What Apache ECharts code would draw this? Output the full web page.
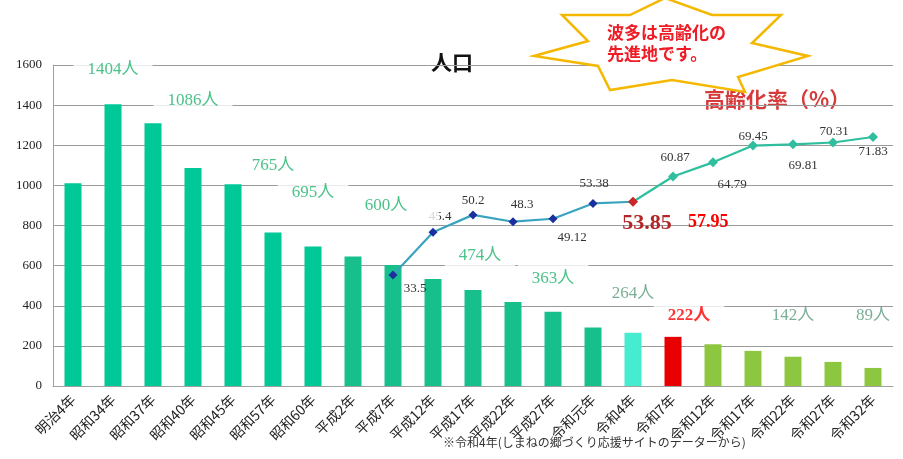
<!DOCTYPE html>
<html>
<head>
<meta charset="utf-8">
<script src="https://cdn.jsdelivr.net/npm/echarts@6/dist/echarts.min.js"></script>
<style>
  html, body { margin: 0; padding: 0; background: #fff; }
  #main { width: 903px; height: 459px; }
</style>
</head>
<body>
<div id="main"></div>
<script>
// 人口（棒）
var years = ['明治4年', '昭和34年', '昭和37年', '昭和40年', '昭和45年', '昭和57年', '昭和60年',
  '平成2年', '平成7年', '平成12年', '平成17年', '平成22年', '平成27年', '令和元年',
  '令和4年', '令和7年', '令和12年', '令和17年', '令和22年', '令和27年', '令和32年'];
var population = [1010, 1404, 1310, 1086, 1005, 765, 695, 645, 603, 533, 478, 419, 370, 291,
  266, 245, 208, 175, 146, 120, 90];

// 高齢化率（折れ線）平成7年〜
var rateYears = years.slice(8);
var agingRate = [33.5, 45.4, 50.2, 48.3, 49.12, 53.38, 53.85, 60.87, 64.79, 69.45, 69.81, 70.31, 71.83];
var splitYear = '令和4年';

// 人数ラベル
var popLabelYears = ['昭和34年', '昭和40年', '昭和57年', '昭和60年', '平成7年', '平成17年', '平成27年',
  '令和4年', '令和7年', '令和22年', '令和32年'];
var popLabelText = ['1404人', '1086人', '765人', '695人', '600人', '474人', '363人', '264人', '222人', '142人', '89人'];
// ラベルを置く高さ（人口軸の目盛りで）
var popLabelLevel = [1575, 1421, 1097, 962, 902, 648, 538, 459, 349, 349, 349];

var yMax = 1600, yStep = 200;

// ---- styles ----
var serif = '"Liberation Serif", "Noto Sans CJK JP", serif';
var gothic = '"Noto Sans CJK JP", sans-serif';

function barColor(i) {
  if (i < 7) return '#00c896';
  if (i < 14) return '#17bf8d';
  if (i === 14) return '#45ecd0';
  if (i === 15) return '#e80000';
  return '#8dc63f';
}

// 各点ラベルのずらし量
var rateLabelOffset = [[22, 14], [7, -16], [0, -14], [9, -17], [19, 19], [1, -20], [14, 22],
  [2, -19], [19, 22], [0, -9], [10, 21], [1, -11], [0, 15]];

var myChart = echarts.init(document.getElementById('main'));

var splitIdx = rateYears.indexOf(splitYear);
var rateA = [], rateB = [];
years.forEach(function (y) {
  var k = rateYears.indexOf(y);
  rateA.push(k >= 0 && k <= splitIdx ? { k: k } : null);
  rateB.push(k >= splitIdx ? { k: k } : null);
});

function lineData(arr, color, isB) {
  return arr.map(function (d) {
    if (!d) return '-';
    var k = d.k;
    var item = {
      value: agingRate[k],
      itemStyle: { color: k === splitIdx ? '#c8282a' : color },
      label: {
        show: !(isB && k === splitIdx),
        offset: rateLabelOffset[k]
      }
    };
    if (k === splitIdx) {
      item.label.fontSize = 22;
      item.label.fontWeight = 'bold';
      item.label.color = '#b3262a';
    }
    return item;
  });
}

var option = {
  animation: false,
  grid: { left: 53, right: 10, top: 65, bottom: 73 },
  xAxis: {
    type: 'category',
    data: years,
    axisTick: { show: false },
    axisLine: { lineStyle: { color: '#a0a0a0' } },
    axisLabel: {
      interval: 0,
      rotate: 45,
      margin: 11,
      fontSize: 14,
      color: '#222',
      fontFamily: gothic
    }
  },
  yAxis: [{
    type: 'value',
    min: 0,
    max: yMax,
    interval: yStep,
    axisLine: { show: true, lineStyle: { color: '#a0a0a0' } },
    axisTick: { show: false },
    splitLine: { lineStyle: { color: '#9a9a9a' } },
    axisLabel: {
      color: '#222', fontSize: 13, fontFamily: serif, margin: 11,
      formatter: function (v) { return String(v); }
    }
  }, {
    type: 'value',
    min: 2.67,
    max: 91.83,
    show: false,
    splitLine: { show: false }
  }],
  series: [{
    type: 'bar',
    barWidth: 17,
    data: population.map(function (v, i) {
      return { value: v, itemStyle: { color: barColor(i) } };
    })
  }, {
    type: 'line',
    yAxisIndex: 1,
    z: 5,
    symbol: 'diamond',
    symbolSize: 9,
    lineStyle: { color: '#3aa3bf', width: 2.2 },
    label: { show: true, position: 'inside', fontFamily: serif, fontSize: 13, color: '#333' },
    data: lineData(rateA, '#1b2fa0', false)
  }, {
    type: 'line',
    yAxisIndex: 1,
    z: 5,
    symbol: 'diamond',
    symbolSize: 10,
    lineStyle: { color: '#2fbf9f', width: 2.2 },
    label: { show: true, position: 'inside', fontFamily: serif, fontSize: 13, color: '#333' },
    data: lineData(rateB, '#2fbf9f', true)
  }, {
    type: 'scatter',
    z: 10,
    symbolSize: 0,
    silent: true,
    data: popLabelYears.map(function (y, i) {
      var txt = popLabelText[i];
      var lab = {
        show: true,
        position: 'inside',
        formatter: txt,
        fontFamily: serif,
        fontSize: 17,
        color: '#1db36a'
      };
      if (['264人', '142人', '89人'].indexOf(txt) >= 0) {
        lab.color = '#5a9a7c';
      } else {
        lab.backgroundColor = '#fff';
        lab.padding = [8, 14];
      }
      if (txt === '222人') {
        lab.color = '#ff0000';
        lab.fontWeight = 'bold';
        lab.offset = [16, 0];
      }
      if (txt === '600人') {
        lab.padding = [8, 32, 8, 14];
        lab.offset = [2, 0];
      }
      if (txt === '474人') lab.offset = [7, 0];
      return { value: [y, popLabelLevel[i]], label: lab };
    })
  }],
  graphic: [{
    type: 'text',
    left: 431, top: 52,
    style: { text: '人口', font: 'bold 21px "Noto Sans CJK JP"', fill: '#111' }
  }, {
    type: 'text',
    left: 704, top: 89,
    style: { text: '高齢化率（%）', font: 'bold 21px "Noto Sans CJK JP"', fill: '#d63a3a' }
  }, {
    type: 'text',
    left: 688, top: 213,
    z: 20,
    style: { text: '57.95', font: 'bold 18px "Liberation Serif"', fill: '#ff0000' }
  }, {
    type: 'polygon',
    z: 20,
    shape: {
      points: [[562, 15], [630, 15], [665, -2], [712, 15], [781, 15], [752, 43], [808, 56],
        [738, 77], [745, 92], [672, 80], [610, 90], [598, 66], [534, 56], [588, 41]]
    },
    style: { fill: '#fff', stroke: '#f5b800', lineWidth: 2.5 }
  }, {
    type: 'text',
    z: 21,
    left: 607, top: 22,
    style: {
      text: '波多は高齢化の\n先進地です。',
      font: 'bold 17px "Noto Sans CJK JP"',
      fill: '#ee1c25',
      align: 'center',
      lineHeight: 21,
      width: 126
    }
  }, {
    type: 'text',
    z: 20,
    left: 443, top: 436,
    style: {
      text: '※令和4年(しまねの郷づくり応援サイトのデーターから)',
      font: '12px "Noto Sans CJK JP"',
      fill: '#333'
    }
  }]
};

myChart.setOption(option);
</script>
</body>
</html>
